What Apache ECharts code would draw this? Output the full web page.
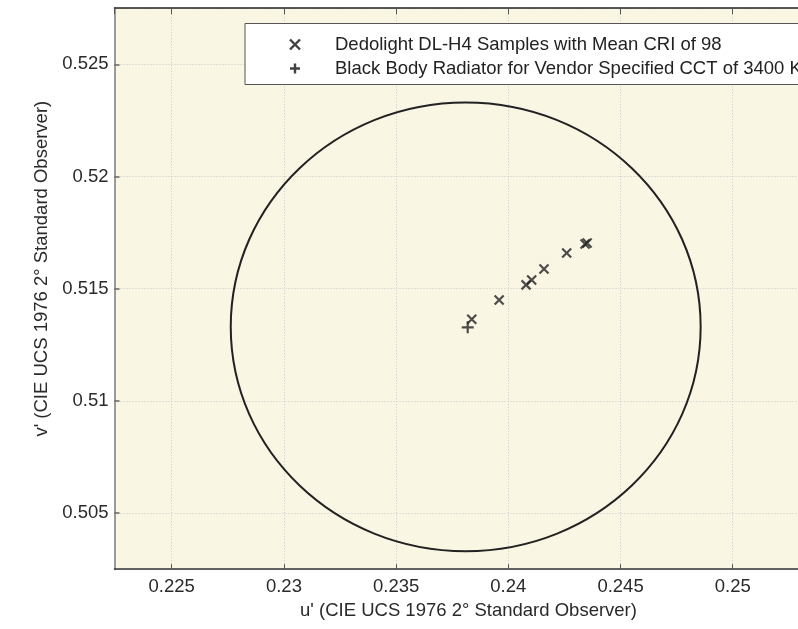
<!DOCTYPE html>
<html>
<head>
<meta charset="utf-8">
<script src="https://cdn.jsdelivr.net/npm/echarts@6/dist/echarts.min.js"></script>
<style>
html,body{margin:0;padding:0;background:#fff;}
#chart{width:798px;height:629px;}
</style>
</head>
<body>
<div id="chart"></div>
<script>
// ---- data ----
const sampleU = [0.23837, 0.23959, 0.24079, 0.24104, 0.24159, 0.24260, 0.24342, 0.24351];
const sampleV = [0.51364, 0.51450, 0.51517, 0.51539, 0.51588, 0.51659, 0.51699, 0.51704];
const blackBodyU = [0.23819];
const blackBodyV = [0.51328];
// tolerance circle: centre and radii
const circleCentreU = [0.2381];
const circleCentreV = [0.5133];
const circleRadiusU = [0.01047];
const circleRadiusV = [0.0100];
const xTickLabels = ['0.225', '0.23', '0.235', '0.24', '0.245', '0.25'];
const yTickLabels = ['0.505', '0.51', '0.515', '0.52', '0.525'];
const seriesNames = ['Dedolight DL-H4 Samples with Mean CRI of 98', 'Black Body Radiator for Vendor Specified CCT of 3400 K'];
const xName = "u' (CIE UCS 1976 2\u00b0 Standard Observer)";
const yName = "v' (CIE UCS 1976 2\u00b0 Standard Observer)";

const FONT = 'Liberation Sans, Arial, sans-serif';
const crossPath = 'path://M0,0L10,10M10,0L0,10';
const plusPath = 'path://M5,0L5,10M0,5L10,5';

const chart = echarts.init(document.getElementById('chart'), null, {renderer: 'canvas'});

const circleData = circleCentreU.map((u, i) => [u, circleCentreV[i], circleRadiusU[i], circleRadiusV[i]]);
const findLabel = (list, v) => { const s = list.find(t => Math.abs(parseFloat(t) - v) < 1e-7); return s || ''; };

const option = {
  animation: false,
  backgroundColor: '#ffffff',
  grid: {left: 114.5, top: 8.2, width: 708, height: 561, outerBoundsMode: 'none', containLabel: false,
         show: true, backgroundColor: '#FAF6E4', borderWidth: 0},
  xAxis: [{
    type: 'value', min: 0.22245, max: 0.254, splitNumber: 5, minInterval: 0.005, maxInterval: 0.005,
    position: 'bottom',
    name: xName, nameLocation: 'middle', nameGap: 31,
    nameTextStyle: {fontFamily: FONT, fontSize: 18.5, color: '#2a2a2a'},
    axisLine: {show: true, onZero: false, lineStyle: {color: '#333', width: 1.5}},
    axisTick: {show: true, inside: true, length: 5, lineStyle: {color: '#555', width: 1}},
    axisLabel: {show: true, margin: 8, fontFamily: FONT, fontSize: 18.5, color: '#2a2a2a', showMinLabel: false, showMaxLabel: false,
      formatter: v => findLabel(xTickLabels, v)},
    splitLine: {show: true, lineStyle: {color: '#c8c8c8', type: [1, 2], width: 1}}
  }, {
    type: 'value', min: 0.22245, max: 0.254, splitNumber: 5, minInterval: 0.005, maxInterval: 0.005,
    position: 'top',
    axisLine: {show: true, onZero: false, lineStyle: {color: '#222', width: 1.5}},
    axisTick: {show: true, inside: true, length: 6, lineStyle: {color: '#555', width: 1}},
    axisLabel: {show: false},
    splitLine: {show: false}
  }],
  yAxis: [{
    type: 'value', min: 0.5025, max: 0.5275, splitNumber: 5, minInterval: 0.005, maxInterval: 0.005,
    position: 'left',
    name: yName, nameLocation: 'middle', nameGap: 63, nameRotate: 90,
    nameTextStyle: {fontFamily: FONT, fontSize: 18.5, color: '#2a2a2a', padding: [0, 0, 0, 40]},
    axisLine: {show: true, onZero: false, lineStyle: {color: '#9a9a9a', width: 2}},
    axisTick: {show: true, inside: true, length: 5, lineStyle: {color: '#666', width: 1.5}},
    axisLabel: {show: true, margin: 6, fontFamily: FONT, fontSize: 18.5, color: '#2a2a2a', showMinLabel: false, showMaxLabel: false,
      formatter: v => findLabel(yTickLabels, v)},
    splitLine: {show: true, lineStyle: {color: '#c8c8c8', type: [1, 2], width: 1}}
  }],
  legend: {
    orient: 'vertical', left: 245, top: 23.5,
    padding: [11, 80, 6, 42.5], itemGap: 4, itemWidth: 10, itemHeight: 10,
    backgroundColor: '#ffffff', borderColor: '#555', borderWidth: 1,
    selectedMode: false,
    textStyle: {fontFamily: FONT, fontSize: 18.5, color: '#222', lineHeight: 20, padding: [0, 0, 0, 30]},
    data: [
      {name: seriesNames[0], icon: crossPath, itemStyle: {color: 'none', borderColor: '#111', borderWidth: 2.4}},
      {name: seriesNames[1], icon: plusPath, itemStyle: {color: 'none', borderColor: '#111', borderWidth: 2.4}}
    ]
  },
  series: [{
    type: 'custom', name: 'circle', silent: true, z: 2,
    renderItem: (params, api) => {
      const c = api.coord([api.value(0), api.value(1)]);
      const ex = api.coord([api.value(0) + api.value(2), api.value(1)]);
      const ey = api.coord([api.value(0), api.value(1) + api.value(3)]);
      return {
        type: 'ellipse',
        shape: {cx: c[0], cy: c[1], rx: Math.abs(ex[0] - c[0]), ry: Math.abs(c[1] - ey[1])},
        style: {fill: 'none', stroke: '#222', lineWidth: 2}
      };
    },
    data: circleData
  }, {
    type: 'scatter', name: seriesNames[0], z: 3,
    symbol: crossPath, symbolSize: 9,
    itemStyle: {color: 'none', borderColor: '#222', borderWidth: 2.2},
    data: sampleU.map((u, i) => [u, sampleV[i]])
  }, {
    type: 'scatter', name: seriesNames[1], z: 3,
    symbol: plusPath, symbolSize: 12,
    itemStyle: {color: 'none', borderColor: '#222', borderWidth: 2.2},
    data: blackBodyU.map((u, i) => [u, blackBodyV[i]])
  }]
};
chart.setOption(option);
</script>
</body>
</html>
